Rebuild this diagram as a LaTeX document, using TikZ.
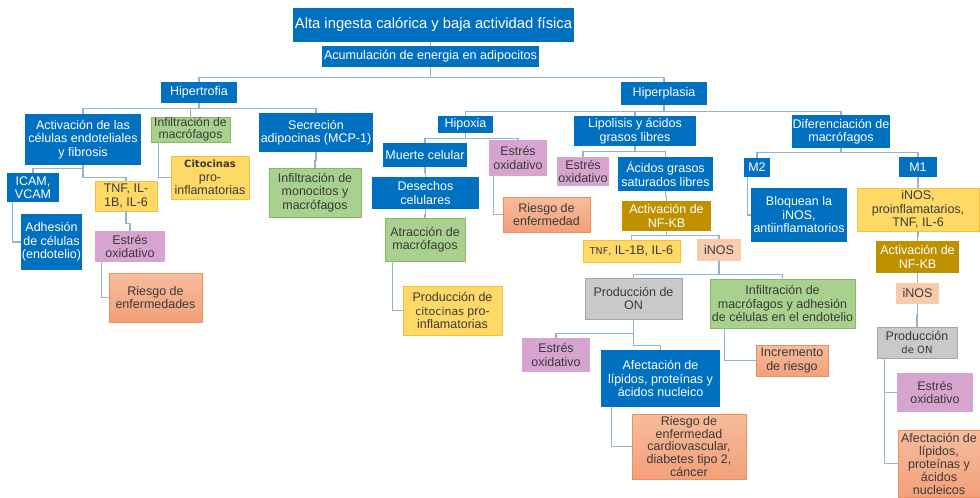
\documentclass[tikz,border=0pt]{standalone}
\usepackage{fontspec}
\setmainfont{Liberation Sans}
\newfontfamily\verd{DejaVu Sans}
\definecolor{sablue}{HTML}{0070C0}
\definecolor{txtgray}{HTML}{3A3A3A}
\definecolor{grnfill}{HTML}{A9D18E}
\definecolor{grnline}{HTML}{86B86A}
\definecolor{ylwfill}{HTML}{FFD966}
\definecolor{ylwline}{HTML}{F4C040}
\definecolor{pnkfill}{HTML}{D6A4CF}
\definecolor{saltop}{HTML}{F7BC9C}
\definecolor{salbot}{HTML}{F3A07A}
\definecolor{salline}{HTML}{EE8E5A}
\definecolor{gldfill}{HTML}{BF9000}
\definecolor{pchfill}{HTML}{F8CBAD}
\definecolor{gryfill}{HTML}{C9C9C9}
\definecolor{gryline}{HTML}{A6A6A6}
\definecolor{linkblue}{HTML}{92B4D4}
\begin{document}
\begin{tikzpicture}[x=1pt,y=-1pt,
    box/.style={align=center,inner sep=0.5pt,text=txtgray,font=\fontsize{12.5}{13.5}\selectfont},
    sz/.style 2 args={minimum width=#1pt,minimum height=#2pt},
    blu/.style={box,fill=sablue,text=white},
    grn/.style={box,fill=grnfill,draw=grnline},
    ylw/.style={box,fill=ylwfill,draw=ylwline},
    pnk/.style={box,fill=pnkfill},
    sal/.style={box,top color=saltop,bottom color=salbot,draw=salline},
    gld/.style={box,fill=gldfill,text=white},
    pch/.style={box,fill=pchfill},
    gry/.style={box,fill=gryfill,draw=gryline},
    link/.style={draw=linkblue,line width=1.3pt}]
 \fill[white] (0,0) rectangle (980,498);
 \useasboundingbox (0,0) rectangle (980,498);
 \node[blu,sz={281}{34},font=\fontsize{14.8}{16}\selectfont] (ALTA) at (433.5,25)
  {Alta ingesta calórica y baja actividad física};
 \node[blu,sz={217}{21},font=\fontsize{12.6}{13}\selectfont] (ACU) at (430.5,56.5)
  {Acumulación de energia en adipocitos};
 \node[blu,sz={76}{21}] (HTR) at (199,92.5) {Hipertrofia};
 \node[blu,sz={86}{23}] (HPL) at (664,93.5) {Hiperplasia};
 \node[blu,sz={116}{51}] (ACT) at (83,139.5) {Activación de las\\células endoteliales\\y fibrosis};
 \node[grn,sz={79}{25},font=\fontsize{12.2}{12.5}\selectfont] (INF) at (190.5,129.5) {Infiltración de\\macrófagos};
 \node[blu,sz={114}{39}] (SEC) at (316,132.5) {Secreción\\adipocinas (MCP-1)};
 \node[ylw,sz={78}{43}] (CIT) at (210,177.5)
  {{\verd\bfseries\fontsize{10}{13}\selectfont Citocinas}\\pro-\\inflamatorias};
 \node[grn,sz={92}{49}] (MON) at (315,192.5) {Infiltración de\\monocitos y\\macrófagos};
 \node[blu,sz={52}{29}] (ICA) at (33,187.5) {ICAM,\\VCAM};
 \node[ylw,sz={62}{30}] (TNF) at (126,196) {TNF, IL-\\1B, IL-6};
 \node[blu,sz={61}{56}] (ADH) at (51.5,242) {Adhesión\\de células\\(endotelio)};
 \node[pnk,sz={70}{31}] (EO1) at (130,246.5) {Estrés\\oxidativo};
 \node[sal,sz={93}{49}] (RE1) at (155.5,297.5) {Riesgo de\\enfermedades};
 \node[blu,sz={55}{17}] (HIP) at (465.5,124.5) {Hipoxia};
 \node[blu,sz={122}{30}] (LIP) at (635,131) {Lipolisis y ácidos\\grasos libres};
 \node[blu,sz={98}{33}] (DIF) at (841,131.5) {Diferenciación de\\macrófagos};
 \node[blu,sz={84}{24}] (MUE) at (425,155) {Muerte celular};
 \node[pnk,sz={58}{36}] (EO2) at (518,158) {Estrés\\oxidativo};
 \node[blu,sz={107}{32}] (DES) at (425.5,193) {Desechos\\celulares};
 \node[grn,sz={80}{43}] (ATR) at (425,239.5) {Atracción de\\macrófagos};
 \node[sal,sz={87}{35}] (RE2) at (546.5,214.5) {Riesgo de\\enfermedad};
 \node[pnk,sz={52}{29}] (EO3) at (583,171.5) {Estrés\\oxidativo};
 \node[blu,sz={95}{34}] (AGS) at (665.5,174) {Ácidos grasos\\saturados libres};
 \node[gld,sz={89}{30}] (NF1) at (666.5,216) {Activación de\\NF-KB};
 \node[ylw,sz={97}{22}] (TNFB) at (631.5,251)
  {{\verd\fontsize{9.5}{10}\selectfont TNF,} IL-1B, IL-6};
 \node[pch,sz={44}{22}] (IN1) at (719,250) {iNOS};
 \node[gry,sz={97}{41}] (ON1) at (633.5,298.5) {Producción de\\ON};
 \node[grn,sz={145}{49}] (IMA) at (782.5,303.5)
  {Infiltración de\\macrófagos y adhesión\\de células en el endotelio};
 \node[sal,sz={72}{31}] (INC) at (792,360.5) {Incremento\\de riesgo};
 \node[pnk,sz={68}{34}] (EO4) at (556,355) {Estrés\\oxidativo};
 \node[blu,sz={119}{57}] (AF1) at (660.5,378.5)
  {Afectación de\\lípidos, proteínas y\\ácidos nucleico};
 \node[sal,sz={114}{65},font=\fontsize{12.5}{12.8}\selectfont] (RE3) at (689,446.5)
  {Riesgo de\\enfermedad\\cardiovascular,\\diabetes tipo 2,\\cáncer};
 \node[ylw,sz={99}{49}] (PCI) at (452.5,310.5)
  {Producción de\\{\verd\fontsize{11}{13.5}\selectfont citocinas} pro-\\inflamatorias};
 \node[blu,sz={26}{19}] (M2) at (757,167.5) {M2};
 \node[blu,sz={38}{20}] (M1) at (918,167) {M1};
 \node[blu,sz={96}{54}] (BLO) at (799,215) {Bloquean la\\iNOS,\\antiinflamatorios};
 \node[ylw,sz={122}{43}] (IPR) at (918,209.5) {iNOS,\\proinflamatarios,\\TNF, IL-6};
 \node[gld,sz={83}{32}] (NF2) at (917.5,257) {Activación de\\NF-KB};
 \node[pch,sz={43}{21}] (IN2) at (917.5,293.5) {iNOS};
 \node[gry,sz={80}{31}] (ON2) at (917,342.5)
  {Producción\\{\verd\fontsize{10}{13}\selectfont de ON}};
 \node[pnk,sz={76}{39}] (EO5) at (935,392.5) {Estrés\\oxidativo};
 \node[sal,sz={82}{67},font=\fontsize{12.5}{13}\selectfont] (AF2) at (939,463.5)
  {Afectación de\\lípidos,\\proteínas y\\ácidos\\nucleicos};
 \draw[link] (ACU.north) -- (ACU.north |- ALTA.south);
 \foreach \P/\C/\l in {ACU/HTR/10,ACU/HPL/10,HTR/ACT/5,HTR/INF/5,HTR/SEC/5,
   HPL/HIP/6,HPL/LIP/6,HPL/DIF/6,ACT/ICA/3,ACT/TNF/12,TNF/EO1/12,SEC/MON/8,
   HIP/MUE/5,HIP/EO2/5,MUE/DES/5,DES/ATR/5,LIP/EO3/5,LIP/AGS/5,AGS/NF1/5,
   NF1/TNFB/4,NF1/IN1/4,IN1/ON1/13,IN1/IMA/13,ON1/EO4/14,ON1/AF1/26,
   DIF/M2/4,DIF/M1/4,M1/IPR/5,IPR/NF2/5,NF2/IN2/5,IN2/ON2/10}
  \draw[link] (\P.south) -- ++(0,\l) -| (\C.north);
 \foreach \P/\C/\d in {INF/CIT/8,ICA/ADH/6,EO1/RE1/7,EO2/RE2/5,ATR/PCI/8,
   IMA/INC/15,AF1/RE3/11,M2/BLO/4,ON2/EO5/8,ON2/AF2/8}
  \draw[link] ([xshift=\d pt]\P.south west) |- (\C.west);
\end{tikzpicture}
\end{document}
